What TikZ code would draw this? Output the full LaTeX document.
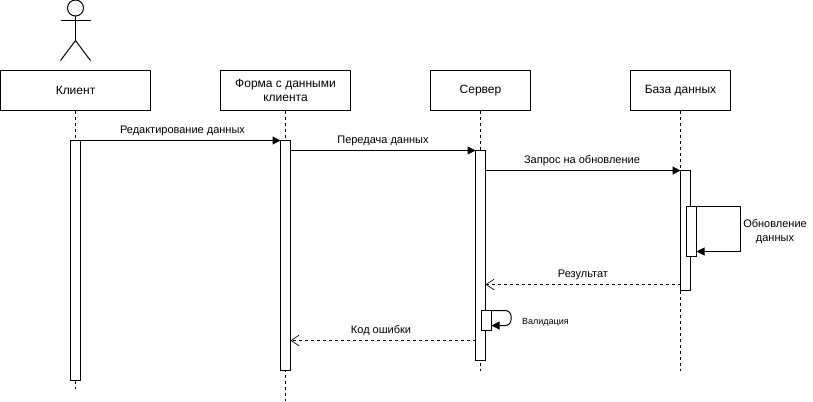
\documentclass[tikz,border=0pt]{standalone}
\usepackage{fontspec}
\setmainfont{Liberation Sans}
\usetikzlibrary{arrows.meta}
\tikzset{
  obj/.style={draw, fill=white, line width=0.75pt, inner sep=0pt, outer sep=0pt, minimum height=30pt, align=center, font=\fontsize{9}{10.5}\selectfont},
  bar/.style={draw, fill=white, line width=0.75pt, inner sep=0pt, outer sep=0pt, minimum width=7.5pt},
  lifeline/.style={line width=0.75pt, dash pattern=on 2.25pt off 2.25pt},
  msg/.style={line width=0.75pt, -{Triangle[length=6pt,width=6pt]}},
  reply/.style={line width=0.75pt, dash pattern=on 2.25pt off 2.25pt, -{Straight Barb[length=6pt,width=8pt,line width=0.5pt]}},
  lbl/.style={inner sep=0pt, align=center, font=\fontsize{8.25}{10.5}\selectfont}
}
\begin{document}
\begin{tikzpicture}[x=0.75pt,y=-0.75pt]
\useasboundingbox (0,0) rectangle (813,401);
% actor
\node [circle, draw, line width=0.75pt, minimum size=12pt, inner sep=0pt, outer sep=0pt] (head) at (75.5,8) {};
\coordinate (armL) at (60.5,20.5);
\coordinate (armR) at (90.5,20.5);
\coordinate (hip) at (75.5,40.5);
\coordinate (footL) at (60.5,60.5);
\coordinate (footR) at (90.5,60.5);
\draw [line width=0.75pt] (head.south) -- (hip);
\draw [line width=0.75pt] (armL) -- (armR);
\draw [line width=0.75pt] (footL) -- (hip) -- (footR);
% objects
\node [obj, minimum width=112.5pt] (client) at (75.5,90.5) {Клиент};
\node [obj, minimum width=97.5pt] (form) at (285.5,90.5) {Форма с данными\\клиента};
\node [obj, minimum width=75pt] (server) at (480.5,90.5) {Сервер};
\node [obj, minimum width=75pt] (base) at (680.5,90.5) {База данных};
% lifelines
\coordinate (clientEnd) at (75.5,389);
\coordinate (formEnd) at (285.5,401);
\coordinate (serverEnd) at (480.5,371);
\coordinate (baseEnd) at (680.5,371);
\draw [lifeline] (client) -- (clientEnd);
\draw [lifeline] (form) -- (formEnd);
\draw [lifeline] (server) -- (serverEnd);
\draw [lifeline] (base) -- (baseEnd);
% activations
\node [bar, minimum height=180pt] (barClient) at (75.5,260.5) {};
\node [bar, minimum height=172.5pt] (barForm) at (285.5,255.5) {};
\node [bar, minimum height=157.5pt] (barServer) at (480.5,255.5) {};
\node [bar, minimum height=90pt] (barBase) at (685.5,230.5) {};
\node [bar, minimum height=37.5pt] (barUpdate) at (691.5,231.5) {};
\node [bar, minimum height=15pt] (barCheck) at (486.5,320.5) {};
% messages
\draw [msg] (barClient.north east) -- (barForm.north west);
\draw [msg] (barForm.east |- barServer.north) -- (barServer.north west);
\draw [msg] (barServer.east |- barBase.north) -- (barBase.north west);
\coordinate (updateLoop) at (740.5,251.5);
\draw [msg] (barUpdate.north east) -| (updateLoop) -- (barUpdate.east |- updateLoop);
\coordinate (resultY) at (680,284.5);
\draw [reply] (barBase.west |- resultY) -- (barServer.east |- resultY);
\coordinate (errorY) at (400,340.5);
\draw [reply] (barServer.west |- errorY) -- (barForm.east |- errorY);
\coordinate (checkA) at (511,310.5);
\coordinate (checkB) at (511,325.5);
\draw [msg] (barCheck.north east) -- (505,310.5) to[out=0,in=90] (511,316) -- (511,320) to[out=-90,in=0] (505,325.5) -- (barCheck.east |- checkB);
% labels
\node [lbl] (lblEdit) at (182.5,131) {Редактирование данных};
\node [lbl] (lblSend) at (383,141) {Передача данных};
\node [lbl] (lblQuery) at (582,161) {Запрос на обновление};
\node [lbl] (lblUpdate) at (775,232) {Обновление\\данных};
\node [lbl] (lblResult) at (583,275) {Результат};
\node [lbl] (lblError) at (381,331) {Код ошибки};
\node [lbl, font=\fontsize{6.75}{8}\selectfont] (lblCheck) at (545.5,322) {Валидация};
\end{tikzpicture}
\end{document}
